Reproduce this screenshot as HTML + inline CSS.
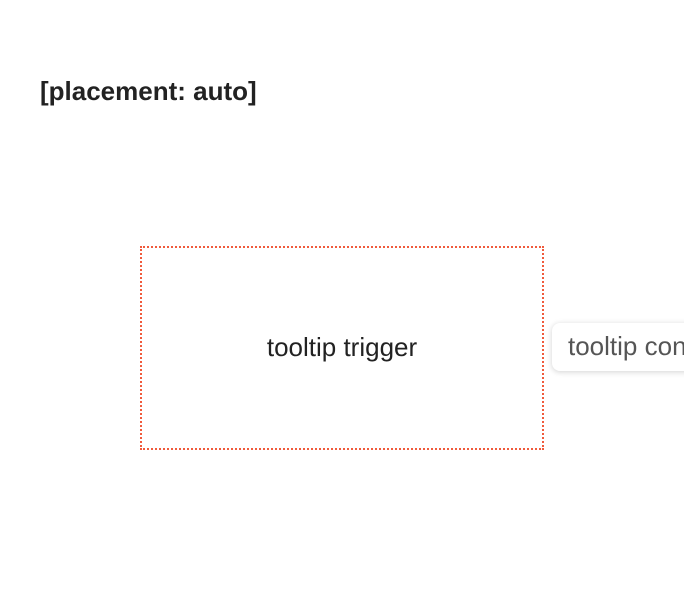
<!DOCTYPE html>
<html><head><style>
html,body{margin:0;padding:0;width:684px;height:590px;overflow:hidden;background:#fff;font-family:"Liberation Sans",sans-serif;}
.title{position:absolute;left:40px;top:76px;font-size:26px;font-weight:bold;color:#222;line-height:30px;white-space:nowrap;}
.trig{position:absolute;left:140px;top:246px;width:400px;height:200px;border:2px dotted #f05a3c;box-sizing:content-box;}
.trig span{position:absolute;left:0;right:0;top:84px;text-align:center;font-size:26px;color:#222;line-height:30px;}
.tip{position:absolute;left:552px;top:323px;width:132px;height:48px;overflow:hidden;background:#fff;border-radius:8px 0 0 8px;box-shadow:0 1px 6px rgba(0,0,0,0.18);font-size:26px;color:#555;line-height:46px;padding-left:16px;white-space:nowrap;}
</style></head><body>
<div class="title">[placement: auto]</div>
<div class="trig"><span>tooltip trigger</span></div>
<div class="tip">tooltip content</div>
</body></html>
